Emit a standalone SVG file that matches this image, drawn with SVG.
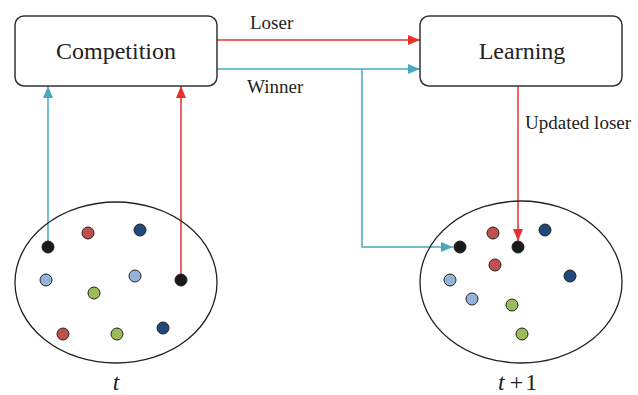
<svg xmlns="http://www.w3.org/2000/svg" width="638" height="395" viewBox="0 0 638 395">
  <style>
    text { font-family: 'Liberation Serif', 'Times New Roman', Times, 'DejaVu Serif', serif; fill: #222222; }
    .box { fill: #ffffff; stroke: #333333; stroke-width: 1.5; }
    .node-label { font-size: 24px; text-anchor: middle; }
    .edge-label { font-size: 19px; }
    .pop { fill: none; stroke: #222222; stroke-width: 1.3; }
    .var { font-size: 24px; }
    .red { stroke: #e8312f; stroke-width: 1.5; fill: none; }
    .blue { stroke: #4aa8c0; stroke-width: 1.5; fill: none; }
    .dot { stroke: #222222; stroke-width: 1; }
    .d-red { fill: #c0504d; }
    .d-navy { fill: #1f497d; }
    .d-sky { fill: #95b3d7; }
    .d-green { fill: #9bbb59; }
    .d-black { fill: #1a1a1a; }
  </style>
  <defs>
    <marker id="arrow-red" viewBox="0 0 12 10" refX="12" refY="5" markerWidth="12" markerHeight="10" markerUnits="userSpaceOnUse" orient="auto">
      <path d="M0,0 L12,5 L0,10 Z" fill="#e8312f"/>
    </marker>
    <marker id="arrow-blue" viewBox="0 0 12 10" refX="12" refY="5" markerWidth="12" markerHeight="10" markerUnits="userSpaceOnUse" orient="auto">
      <path d="M0,0 L12,5 L0,10 Z" fill="#4aa8c0"/>
    </marker>
  </defs>

  <!-- connectors -->
  <g id="connectors">
    <line class="red" x1="217" y1="40" x2="420" y2="40" marker-end="url(#arrow-red)"/>
    <line class="blue" x1="217" y1="69" x2="420" y2="69" marker-end="url(#arrow-blue)"/>
    <polyline class="blue" points="362,69 362,247 453,247" marker-end="url(#arrow-blue)"/>
    <line class="red" x1="518" y1="86" x2="518" y2="241" marker-end="url(#arrow-red)"/>
    <line class="blue" x1="48" y1="247" x2="48" y2="86" marker-end="url(#arrow-blue)"/>
    <line class="red" x1="181" y1="280" x2="181" y2="86" marker-end="url(#arrow-red)"/>
    <text class="edge-label" x="250" y="29">Loser</text>
    <text class="edge-label" x="247" y="93">Winner</text>
    <text class="edge-label" x="525" y="129">Updated loser</text>
  </g>

  <!-- competition step -->
  <g id="competition">
    <rect class="box" x="15" y="16" width="202" height="70" rx="9"/>
    <text class="node-label" x="116" y="59">Competition</text>
  </g>

  <!-- learning step -->
  <g id="learning">
    <rect class="box" x="420" y="16" width="202" height="70" rx="9"/>
    <text class="node-label" x="522" y="59">Learning</text>
  </g>

  <!-- population at generation t -->
  <g id="population-t">
    <ellipse class="pop" cx="116" cy="282.5" rx="101" ry="80.5"/>
    <circle class="dot d-black" cx="48" cy="247" r="6"/>
    <circle class="dot d-red" cx="88" cy="233" r="6"/>
    <circle class="dot d-navy" cx="140" cy="230" r="6"/>
    <circle class="dot d-sky" cx="46" cy="280" r="6"/>
    <circle class="dot d-sky" cx="135" cy="276" r="6"/>
    <circle class="dot d-black" cx="181" cy="280" r="6"/>
    <circle class="dot d-green" cx="94" cy="293" r="6"/>
    <circle class="dot d-red" cx="63" cy="334" r="6"/>
    <circle class="dot d-green" cx="117" cy="334" r="6"/>
    <circle class="dot d-navy" cx="163" cy="328" r="6"/>
    <text class="var" x="116" y="390" text-anchor="middle" font-style="italic">t</text>
  </g>

  <!-- population at generation t+1 -->
  <g id="population-t1">
    <ellipse class="pop" cx="521" cy="282" rx="101" ry="81"/>
    <circle class="dot d-black" cx="460" cy="247" r="6"/>
    <circle class="dot d-red" cx="493" cy="233" r="6"/>
    <circle class="dot d-black" cx="518" cy="247" r="6"/>
    <circle class="dot d-navy" cx="545" cy="230" r="6"/>
    <circle class="dot d-red" cx="495" cy="265" r="6"/>
    <circle class="dot d-sky" cx="450" cy="280" r="6"/>
    <circle class="dot d-navy" cx="570" cy="276" r="6"/>
    <circle class="dot d-sky" cx="472" cy="299" r="6"/>
    <circle class="dot d-green" cx="512" cy="305" r="6"/>
    <circle class="dot d-green" cx="522" cy="334" r="6"/>
    <text class="var" x="498" y="390"><tspan font-style="italic">t</tspan><tspan dx="5">+</tspan><tspan dx="2">1</tspan></text>
  </g>
</svg>
